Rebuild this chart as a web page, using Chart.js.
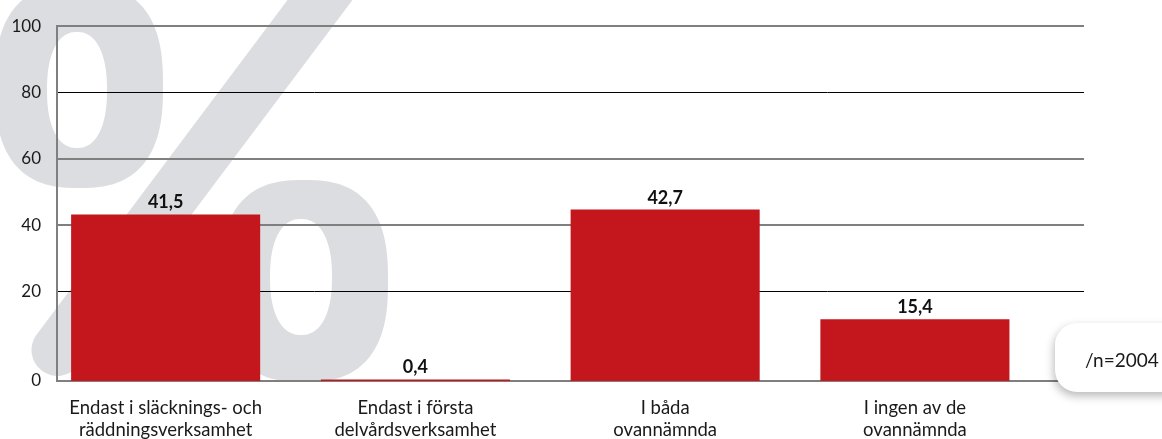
<!DOCTYPE html>
<html><head><meta charset="utf-8">
<script src="https://cdn.jsdelivr.net/npm/chart.js@4.4.0/dist/chart.umd.min.js"></script>
<style>html,body{margin:0;padding:0;background:#fff;overflow:hidden}#wrap{width:1162px;height:439px;position:relative}</style>
</head><body><div id="wrap"><canvas id="c" width="1162" height="439"></canvas></div>
<script>
// ---- data ----
const categories = [
  ["Endast i släcknings- och", "räddningsverksamhet"],
  ["Endast i första", "delvårdsverksamhet"],
  ["I båda", "ovannämnda"],
  ["I ingen av de", "ovannämnda"]
];
const values = [41.5, 0.4, 42.7, 15.4];
const yTickValues = [20, 40, 60, 80, 100];
const baseTickLabel = "0";
const noteText = "/n=2004";

// ---- styles ----
const FONT = "Lato, 'Open Sans', sans-serif";
const BAR = '#c3161d';
const TEXT = '#1a1a1a';
const AXIS = '#7f7f7f';
const WM = '#dcdde0';
const Y_MIN = -7.06;

function superellipse(ctx, cx, cy, a, b, n) {
  const steps = 160;
  for (let k = 0; k <= steps; k++) {
    const t = (k / steps) * Math.PI * 2;
    const c = Math.cos(t), s = Math.sin(t);
    const x = cx + a * Math.sign(c) * Math.pow(Math.abs(c), 2 / n);
    const y = cy + b * Math.sign(s) * Math.pow(Math.abs(s), 2 / n);
    if (k === 0) ctx.moveTo(x, y); else ctx.lineTo(x, y);
  }
  ctx.closePath();
}

const bgPlugin = {
  id: 'bg',
  beforeDraw(chart) {
    const ctx = chart.ctx;
    ctx.save();
    ctx.fillStyle = '#fff';
    ctx.fillRect(0, 0, chart.width, chart.height);
    ctx.fillStyle = WM;
    ctx.strokeStyle = WM;
    // upper ring
    ctx.beginPath();
    superellipse(ctx, 79, 86, 84, 102, 2.6);
    superellipse(ctx, 77, 90, 30, 58, 2.3);
    ctx.fill('evenodd');
    // lower ring
    ctx.beginPath();
    superellipse(ctx, 304, 281, 84, 101, 2.6);
    superellipse(ctx, 301, 277, 31, 58, 2.3);
    ctx.fill('evenodd');
    // slash
    ctx.lineWidth = 52;
    ctx.lineCap = 'round';
    ctx.beginPath();
    ctx.moveTo(320 - 0.75 * 350, 350);
    ctx.lineTo(320 + 0.75 * 60, -60);
    ctx.stroke();
    ctx.restore();
  }
};

const valuePlugin = {
  id: 'vals',
  afterDatasetsDraw(chart) {
    const ctx = chart.ctx;
    const meta = chart.getDatasetMeta(0);
    ctx.save();
    ctx.font = "bold 18px " + FONT;
    ctx.fillStyle = '#111';
    ctx.textAlign = 'center';
    ctx.textBaseline = 'alphabetic';
    meta.data.forEach((bar, i) => {
      ctx.fillText(values[i].toFixed(1).replace('.', ','), bar.x, bar.y - 6);
    });
    ctx.restore();
  }
};

const notePlugin = {
  id: 'note',
  afterDraw(chart) {
    const ctx = chart.ctx;
    ctx.save();
    ctx.shadowColor = 'rgba(0,0,0,0.28)';
    ctx.shadowBlur = 10;
    ctx.shadowOffsetX = -1;
    ctx.shadowOffsetY = 4;
    ctx.fillStyle = '#fff';
    ctx.beginPath();
    ctx.roundRect(1055, 323, 150, 69, 22);
    ctx.fill();
    ctx.restore();
    ctx.save();
    ctx.font = "19px " + FONT;
    ctx.fillStyle = TEXT;
    ctx.textAlign = 'left';
    ctx.textBaseline = 'middle';
    ctx.fillText(noteText, 1085, 361);
    ctx.restore();
  }
};

new Chart(document.getElementById('c'), {
  type: 'bar',
  data: {
    datasets: [{
      data: values.map((v, i) => ({ x: i, y: v })),
      backgroundColor: BAR,
      barPercentage: 0.757,
      categoryPercentage: 1,
      xAxisID: 'x',
      yAxisID: 'y'
    }]
  },
  options: {
    responsive: false,
    animation: false,
    events: [],
    layout: { padding: { top: 21, right: 78, bottom: 0, left: 0 } },
    plugins: { legend: { display: false }, tooltip: { enabled: false } },
    scales: {
      x: {
        type: 'linear',
        offset: false,
        min: -0.435,
        max: 3.677,
        afterBuildTicks: s => { s.ticks = categories.map((_, i) => ({ value: i })); },
        afterFit: s => { s.height = 58; },
        grid: { display: false, drawTicks: false, offset: false },
        border: { display: true, color: AXIS, width: 2 },
        ticks: {
          callback: v => categories[v],
          font: { family: FONT, size: 18.5, lineHeight: '22px' },
          color: TEXT,
          padding: 16,
          maxRotation: 0,
          autoSkip: false
        }
      },
      y: { display: false, min: 0, max: 88.4 },
      yT: {
        type: 'linear',
        position: 'left',
        min: Y_MIN,
        max: 100,
        afterBuildTicks: s => { s.ticks = [{ value: Y_MIN }].concat(yTickValues.map(v => ({ value: v }))); },
        afterFit: s => { s.width = 57; },
        grid: {
          drawTicks: false,
          color: c => (c.index === 0 ? 'rgba(0,0,0,0)' : ([80, 20].includes(c.tick.value) ? '#000' : AXIS)),
          lineWidth: c => ([80, 20].includes(c.tick && c.tick.value) ? 1 : 2)
        },
        border: { color: AXIS, width: 2 },
        ticks: {
          callback: (v, i) => (i === 0 ? baseTickLabel : String(v)),
          font: { family: FONT, size: 17 },
          color: TEXT,
          padding: 16
        }
      }
    }
  },
  plugins: [bgPlugin, valuePlugin, notePlugin]
});
</script>
</body></html>
